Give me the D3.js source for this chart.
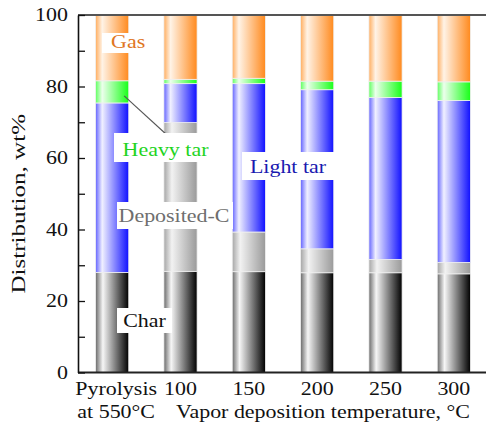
<!DOCTYPE html>
<html><head><meta charset="utf-8">
<script src="https://cdn.jsdelivr.net/npm/d3@7"></script>
<style>body{margin:0;background:#fff}svg{display:block}</style>
</head><body>
<script>
const categories = ["Pyrolysis", "100", "150", "200", "250", "300"];
const charVals   = [28.0, 28.3, 28.2, 27.9, 27.9, 27.6];
const depositedC = [0.0, 41.6, 11.1, 6.7, 3.7, 3.2];
const lightTar   = [47.4, 10.9, 41.5, 44.5, 45.3, 45.3];
const heavyTar   = [6.2, 1.2, 1.5, 2.4, 4.6, 5.2];
const gasVals    = [18.4, 18.0, 17.7, 18.5, 18.5, 18.7];
const seriesNames = ["Char", "Deposited-C", "Light tar", "Heavy tar", "Gas"];
const yTicks = [0, 20, 40, 60, 80, 100];

const W = 486, H = 422;
const M = {left: 78, top: 15, right: 488, bottom: 372.5};
const svg = d3.select("body").append("svg").attr("width", W).attr("height", H);
const FONT = "Liberation Serif";

const x = d3.scaleBand().domain(categories).range([M.left, M.right]).paddingInner(0.515).paddingOuter(0.2575);
const y = d3.scaleLinear().domain([0, 100]).range([M.bottom, M.top]);

const rows = categories.map((c, i) => ({cat: c, "Char": charVals[i], "Deposited-C": depositedC[i],
  "Light tar": lightTar[i], "Heavy tar": heavyTar[i], "Gas": gasVals[i]}));
const stack = d3.stack().keys(seriesNames)(rows);

const grads = {
  "Char":        [[0, "#6a6a6a"], [0.22, "#f6f6f6"], [1, "#000000"]],
  "Deposited-C": [[0, "#a6a6a6"], [0.24, "#f2f2f2"], [1, "#9a9a9a"]],
  "Light tar":   [[0, "#6464ff"], [0.2, "#f0f0ff"], [1, "#1010ff"]],
  "Heavy tar":   [[0, "#60ff60"], [0.2, "#ecffec"], [1, "#18ff18"]],
  "Gas":         [[0, "#ffae60"], [0.2, "#fff3e6"], [1, "#ff8a1e"]]
};
const defs = svg.append("defs");
seriesNames.forEach((s, k) => {
  const g = defs.append("linearGradient").attr("id", "g" + k).attr("x1", 0).attr("x2", 1).attr("y1", 0).attr("y2", 0);
  grads[s].forEach(st => g.append("stop").attr("offset", st[0]).attr("stop-color", st[1]));
});

stack.forEach((layer, k) => {
  svg.append("g").selectAll("rect").data(layer.filter(d => d[1] - d[0] > 0)).join("rect")
    .attr("x", d => x(d.data.cat)).attr("width", x.bandwidth())
    .attr("y", d => y(d[1])).attr("height", d => y(d[0]) - y(d[1]))
    .attr("fill", `url(#g${k})`).attr("stroke", "#efefef").attr("stroke-width", 0.8);
});

// frame
svg.append("line").attr("x1", M.left).attr("x2", W).attr("y1", M.top).attr("y2", M.top)
  .attr("stroke", "#555").attr("stroke-width", 2);
svg.append("line").attr("x1", M.left).attr("x2", W).attr("y1", M.bottom).attr("y2", M.bottom)
  .attr("stroke", "#222").attr("stroke-width", 2);

// y axis
const yAxis = d3.axisLeft(y).tickValues(d3.range(0, 101, 10)).tickSizeInner(-7).tickSizeOuter(0).tickFormat("");
const ya = svg.append("g").attr("transform", `translate(${M.left},0)`).call(yAxis);
ya.select(".domain").attr("stroke", "#111").attr("stroke-width", 1.6);
ya.selectAll(".tick line").attr("stroke", "#111").attr("stroke-width", 1.3);

function txt(px, py, s, opts) {
  const o = Object.assign({size: 18, sx: 1.22, anchor: "middle", color: "#111", rot: 0}, opts || {});
  const g = svg.append("g").attr("transform", `translate(${px},${py}) rotate(${o.rot}) scale(${o.sx},1)`);
  return g.append("text").attr("text-anchor", o.anchor).style("font-family", FONT)
    .attr("font-size", o.size).attr("fill", o.color).text(s);
}

yTicks.forEach(v => txt(68, y(v) + 6, String(v), {anchor: "end"}));

// x tick labels
categories.forEach((c, i) => {
  if (i === 0) {
    txt(x(c) + x.bandwidth() / 2 + 4, 395, "Pyrolysis");
    txt(x(c) + x.bandwidth() / 2 + 4, 418, "at 550°C");
  } else {
    txt(x(c) + x.bandwidth() / 2, 395, c);
  }
});
txt(323, 418, "Vapor deposition temperature, °C");
txt(25, (M.top + M.bottom) / 2 + 10, "Distribution, wt%", {rot: -90, sx: 1.32, size: 19});

// annotations
const cx = i => x(categories[i]) + x.bandwidth() / 2;
const labels = [
  {t: "Gas", x: cx(0) + 16, y: 48, box: [102, 33, 54, 20], color: "#e0761e"},
  {t: "Heavy tar", x: 165.5, y: 156, box: [114, 133, 100, 29], color: "#1fd41f"},
  {t: "Light tar", x: 288, y: 173, box: [242, 152, 94, 28], color: "#1a1ab0"},
  {t: "Deposited-C", x: 174, y: 222, box: [117, 202, 116, 27], color: "#6e6e6e"},
  {t: "Char", x: 144.5, y: 327, box: [117, 308, 55, 25], color: "#111"}
];
// leader line
svg.append("line").attr("x1", cx(0) + 12).attr("y1", y((75.4 + 81.6) / 2) + 4)
  .attr("x2", 167).attr("y2", 135).attr("stroke", "#555").attr("stroke-width", 1.1);
labels.forEach(l => {
  svg.append("rect").attr("x", l.box[0]).attr("y", l.box[1]).attr("width", l.box[2]).attr("height", l.box[3]).attr("fill", "#fff");
  txt(l.x, l.y, l.t, {color: l.color});
});
</script>
</body></html>
